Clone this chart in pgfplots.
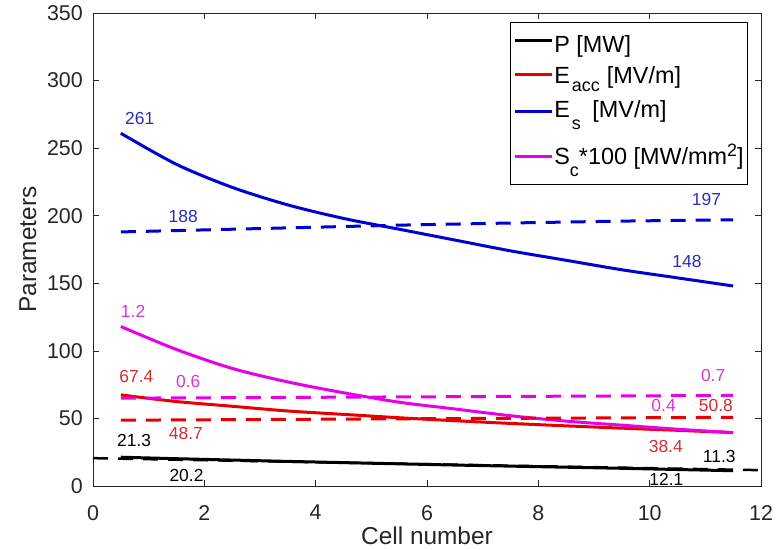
\documentclass[border=0pt]{standalone}
\usepackage{fontspec}
\setmainfont{Liberation Sans}
\usepackage{pgfplots}
\pgfplotsset{compat=1.18}
\definecolor{axgray}{RGB}{38,38,38}
\definecolor{lblue}{RGB}{0,0,210}
\definecolor{lred}{RGB}{232,0,0}
\definecolor{lmag}{RGB}{232,0,232}
\definecolor{tblue}{RGB}{45,45,185}
\definecolor{tred}{RGB}{212,45,45}
\definecolor{tmag}{RGB}{212,55,212}
\newcommand{\sub}[2]{\raisebox{-#1}{\fontsize{18}{18}\selectfont #2}}
\newcommand{\sups}[1]{\raisebox{8bp}{\fontsize{18}{18}\selectfont #1}}
\begin{document}
\begin{tikzpicture}
\useasboundingbox (-93bp,-64bp) rectangle (683bp,486bp);
\begin{axis}[
  at={(0,0)}, anchor=south west,
  width=668bp, height=473bp, scale only axis,
  xmin=0, xmax=12, ymin=0, ymax=350,
  xtick={0,2,4,6,8,10,12}, ytick={0,50,100,150,200,250,300,350},
  tick align=inside, major tick length=6bp,
  axis line style={axgray, line width=0.7bp},
  every tick/.style={axgray, line width=0.7bp},
  tick label style={font=\fontsize{21.5}{24}\selectfont, text=axgray},
  /pgf/number format/assume math mode=true,
  xticklabel style={anchor=north, inner sep=0pt, yshift=-19bp},
  yticklabel style={anchor=east, inner sep=0pt, xshift=-10bp},
  xlabel={Cell number}, ylabel={Parameters},
  label style={font=\fontsize{24.5}{28}\selectfont, text=axgray},
  xlabel style={at={(axis description cs:0.5,-0.1247)}, anchor=base},
  ylabel style={at={(axis description cs:-0.0853,0.5)}, anchor=base, rotate=0},
  legend style={at={(1,1)}, anchor=north east, xshift=-13bp, yshift=-9bp,
    draw=black, line width=0.6bp, fill=white,
    font=\fontsize{23.5}{28}\selectfont, inner xsep=3bp, inner ysep=2bp,
    row sep=0bp, nodes={inner xsep=1bp, inner ysep=0bp, text depth=}},
  legend cell align=left,
  legend image code/.code={\draw[#1, line width=3bp] (0bp,0bp) -- (37bp,0bp);},
  clip=false,
]
% solid lines (legend)
\addplot[black, line width=3bp] coordinates {(0.5,21.3)(1.5,20.2)(2.5,19.2)(3.5,18.2)(4.5,17.3)(5.5,16.4)(6.5,15.5)(7.5,14.7)(8.5,13.9)(9.5,13.1)(10.5,12.2)(11.5,11.3)};
\addlegendentry{\rule[-5bp]{0pt}{33bp}P [MW]}
\addplot[lred, line width=3bp, smooth] coordinates {(0.5,67.4)(1.5,62.5)(2.5,59)(3.5,55.5)(4.5,53)(5.5,50.5)(6.5,48.3)(7.5,46.3)(8.5,44.5)(9.5,42.8)(10.5,41.2)(11.5,39.5)};
\addlegendentry{\rule[-8bp]{0pt}{34.6bp}E\hspace{2bp}\sub{8bp}{acc}\hspace{7bp}[MV/m]}
\addplot[lblue, line width=3bp, smooth] coordinates {(0.5,261)(1.5,238)(2.5,221)(3.5,208)(4.5,198)(5.5,190)(6.5,182)(7.5,174)(8.5,167)(9.5,160)(10.5,154)(11.5,148)};
\addlegendentry{\rule[-13bp]{0pt}{38.4bp}E\hspace{2bp}\sub{12bp}{s}\hspace{11.5bp}[MV/m]}
\addplot[lmag, line width=3bp, smooth] coordinates {(0.5,118)(1.5,101)(2.5,87)(3.5,77)(4.5,69)(5.5,62)(6.5,57)(7.5,52)(8.5,48)(9.5,45)(10.5,42)(11.5,39.5)};
\addlegendentry{\rule[-18bp]{0pt}{51.6bp}S\sub{12bp}{c}*100 [MW/mm\sups{2}]}
% dashed lines
\addplot[forget plot, black, line width=2.5bp, dash pattern=on 15bp off 10bp] coordinates {(0,20.6)(0.5,20.2)(11.5,12.1)(12,11.7)};
\addplot[forget plot, lred, line width=3bp, dash pattern=on 15bp off 10bp] coordinates {(0.5,48.7)(6,49.8)(11.5,50.8)};
\addplot[forget plot, lblue, line width=3bp, dash pattern=on 15bp off 10bp, smooth] coordinates {(0.5,188)(1.5,189)(2.5,190)(3.5,191)(4.5,192)(5.5,193)(6.5,193.8)(7.5,194.6)(8.5,195.3)(9.5,196)(10.5,196.5)(11.5,197)};
\addplot[forget plot, lmag, line width=3bp, dash pattern=on 15bp off 10bp] coordinates {(0.5,65)(6,66)(11.5,67)};
% value labels
\begin{scope}[every node/.style={font=\fontsize{17.5}{20}\selectfont, inner sep=0pt}]
\node[text=tblue] at (axis cs:0.84,272) {261};
\node[text=tblue] at (axis cs:1.62,199.3) {188};
\node[text=tblue] at (axis cs:11.02,212.2) {197};
\node[text=tblue] at (axis cs:10.67,166) {148};
\node[text=tmag] at (axis cs:0.72,129) {1.2};
\node[text=tmag] at (axis cs:1.71,77.2) {0.6};
\node[text=tmag] at (axis cs:11.14,81.4) {0.7};
\node[text=tmag] at (axis cs:10.25,59.2) {0.4};
\node[text=tred] at (axis cs:0.78,80.9) {67.4};
\node[text=tred] at (axis cs:1.67,38.5) {48.7};
\node[text=tred] at (axis cs:11.19,59.2) {50.8};
\node[text=tred] at (axis cs:10.29,29.6) {38.4};
\node[text=black] at (axis cs:0.74,34) {21.3};
\node[text=black] at (axis cs:1.68,8.1) {20.2};
\node[text=black] at (axis cs:11.25,22.2) {11.3};
\node[text=black] at (axis cs:10.3,5) {12.1};
\end{scope}
\end{axis}
\end{tikzpicture}
\end{document}
